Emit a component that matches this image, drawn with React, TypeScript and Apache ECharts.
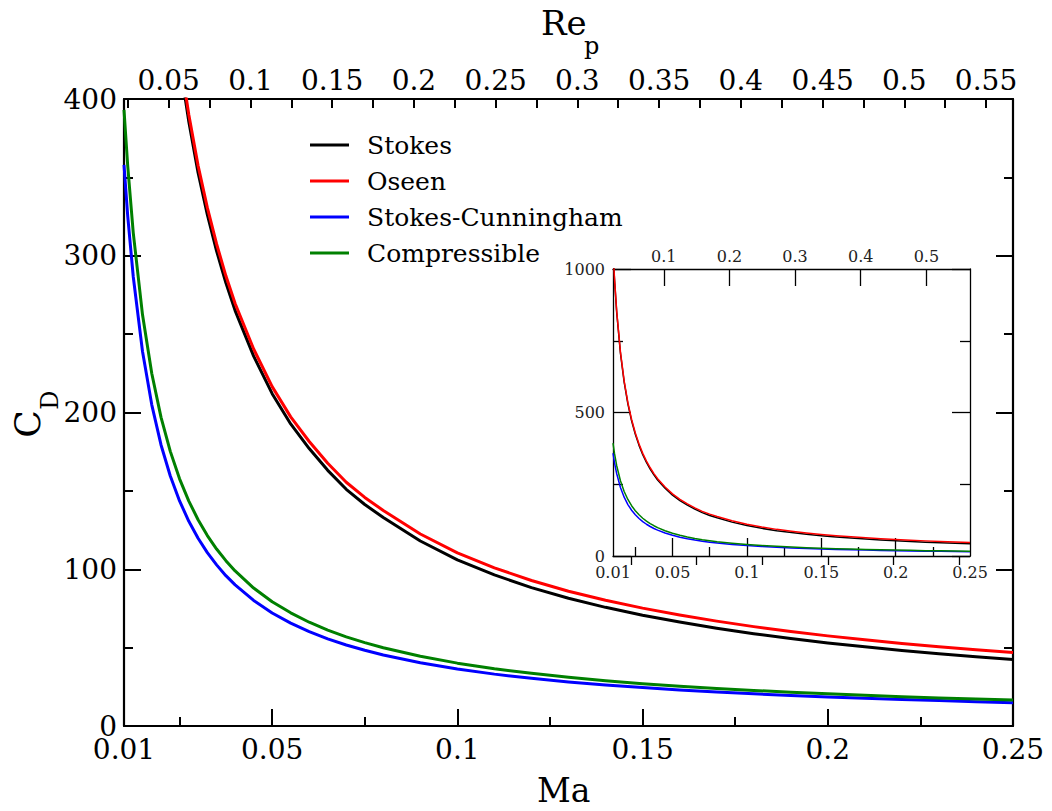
import React, { useEffect, useRef } from "react";
import * as echarts from "echarts";

const FONT = "DejaVu Serif";

// Relative Mach number (bottom axis)
const MA = [0.01, 0.011, 0.0125, 0.015, 0.0175, 0.02, 0.0225, 0.025, 0.0275, 0.03, 0.0325, 0.035, 0.0375, 0.04, 0.045, 0.05, 0.055, 0.06, 0.065, 0.07, 0.075, 0.08, 0.09, 0.1, 0.11, 0.12, 0.13, 0.14, 0.15, 0.16, 0.17, 0.18, 0.19, 0.2, 0.21, 0.22, 0.23, 0.24, 0.25];

// Drag coefficient C_D
const STOKES = [1060, 963.6, 848, 707, 606, 530, 471, 424, 385.5, 353, 326.2, 303, 282.7, 265, 236, 212, 192.7, 177, 163.1, 151, 141.3, 133, 118, 106, 96.4, 88.3, 81.5, 75.7, 70.7, 66.3, 62.4, 58.9, 55.8, 53.0, 50.5, 48.2, 46.1, 44.2, 42.4];
const OSEEN = [1064.5, 968.1, 852.5, 711.5, 610.5, 534.5, 475.5, 428.5, 390.0, 357.5, 330.7, 307.5, 287.2, 269.5, 240.5, 216.5, 197.2, 181.5, 167.6, 155.5, 145.8, 137.5, 122.5, 110.5, 100.9, 92.8, 86.0, 80.2, 75.2, 70.8, 66.9, 63.4, 60.3, 57.5, 55.0, 52.7, 50.6, 48.7, 46.9];
const CUNNINGHAM = [358.0, 325.5, 286.6, 238.9, 204.9, 179.3, 159.5, 143.6, 130.6, 119.8, 110.6, 102.8, 95.9, 90.0, 80.1, 72.1, 65.6, 60.2, 55.6, 51.7, 48.3, 45.3, 40.3, 36.4, 33.1, 30.4, 28.1, 26.2, 24.5, 23.0, 21.7, 20.5, 19.4, 18.5, 17.7, 16.9, 16.2, 15.5, 14.9];
const COMPRESSIBLE = [393.0, 357.4, 314.6, 262.3, 224.9, 196.9, 175.2, 157.7, 143.5, 131.6, 121.5, 112.9, 105.5, 98.9, 88.0, 79.3, 72.2, 66.2, 61.2, 56.9, 53.2, 49.9, 44.5, 40.1, 36.5, 33.6, 31.1, 28.9, 27.0, 25.4, 24.0, 22.7, 21.5, 20.5, 19.6, 18.7, 17.9, 17.2, 16.6];

const SERIES_NAMES = ["Stokes", "Oseen", "Stokes-Cunningham", "Compressible"];
const SERIES_VALUES = [STOKES, OSEEN, CUNNINGHAM, COMPRESSIBLE];
const SERIES_COLORS = ["#000000", "#ff0000", "#0000ff", "#008000"];

// Axis ranges and tick labels
const MA_MIN = 0.01;
const MA_MAX = 0.25;
const RE_MIN = 0.02264;
const RE_MAX = 0.5665;
const MA_LABELS = [0.01, 0.05, 0.1, 0.15, 0.2, 0.25];
const MA_MAJOR = [0.05, 0.1, 0.15, 0.2];
const MA_MINOR = [0.025, 0.075, 0.125, 0.175, 0.225];
const RE_LABELS_MAIN = [0.05, 0.1, 0.15, 0.2, 0.25, 0.3, 0.35, 0.4, 0.45, 0.5, 0.55];
const RE_TICKS_MAIN = [0.025, 0.05, 0.075, 0.1, 0.125, 0.15, 0.175, 0.2, 0.225, 0.25, 0.275, 0.3, 0.325, 0.35, 0.375, 0.4, 0.425, 0.45, 0.475, 0.5, 0.525, 0.55];
const RE_LABELS_INSET = [0.1, 0.2, 0.3, 0.4, 0.5];
const RE_MINOR_INSET = [0.05, 0.15, 0.25, 0.35, 0.45, 0.55];
const CD_MAX_MAIN = 400;
const CD_STEP_MAIN = 100;
const CD_MAX_INSET = 1000;
const CD_STEP_INSET = 500;

function pairs(values: number[]) {
  return MA.map((m, i) => [m, values[i]]);
}

const plain = (v: number) => String(v);

export default function App() {
  const ref = useRef<HTMLDivElement>(null);

  useEffect(() => {
    if (!ref.current) return;
    const chart = echarts.init(ref.current, null, { renderer: "svg" });

    const mainLine = { show: true, onZero: false, lineStyle: { color: "#000", width: 2.2 } };
    const insetLine = { show: true, onZero: false, lineStyle: { color: "#000", width: 1.3 } };
    const mainLabel = { fontFamily: FONT, fontSize: 28, color: "#000", formatter: plain };
    const insetLabel = { fontFamily: FONT, fontSize: 16, color: "#222", formatter: plain };
    const noSplit = { show: false };

    const xAxis: any[] = [
      {
        gridIndex: 0, type: "value", position: "bottom", min: MA_MIN, max: MA_MAX,
        axisLine: mainLine,
        axisTick: { show: true, inside: true, length: 17, lineStyle: { color: "#000", width: 2 }, customValues: MA_MAJOR },
        axisLabel: { ...mainLabel, margin: 9, customValues: MA_LABELS },
        splitLine: noSplit,
      },
      {
        gridIndex: 0, type: "value", position: "bottom", min: MA_MIN, max: MA_MAX,
        axisLine: { show: false },
        axisTick: { show: true, inside: true, length: 9, lineStyle: { color: "#000", width: 2 }, customValues: MA_MINOR },
        axisLabel: { show: false },
        splitLine: noSplit,
      },
      {
        gridIndex: 0, type: "value", position: "top", min: RE_MIN, max: RE_MAX,
        axisLine: mainLine,
        axisTick: { show: true, inside: true, length: 9, lineStyle: { color: "#000", width: 2 }, customValues: RE_TICKS_MAIN },
        axisLabel: { ...mainLabel, margin: 5, customValues: RE_LABELS_MAIN },
        splitLine: noSplit,
      },
      {
        gridIndex: 1, type: "value", position: "bottom", min: MA_MIN, max: MA_MAX,
        axisLine: insetLine,
        axisTick: { show: true, inside: true, length: 18, lineStyle: { color: "#000", width: 1.3 }, customValues: MA_MAJOR },
        axisLabel: { ...insetLabel, margin: 8, customValues: MA_LABELS },
        splitLine: noSplit,
      },
      {
        gridIndex: 1, type: "value", position: "bottom", min: MA_MIN, max: MA_MAX,
        axisLine: { show: false },
        axisTick: { show: true, inside: true, length: 9, lineStyle: { color: "#000", width: 1.3 }, customValues: MA_MINOR },
        axisLabel: { show: false },
        splitLine: noSplit,
      },
      {
        gridIndex: 1, type: "value", position: "top", min: RE_MIN, max: RE_MAX,
        axisLine: insetLine,
        axisTick: { show: true, inside: true, length: 17, lineStyle: { color: "#000", width: 1.3 }, customValues: RE_LABELS_INSET },
        axisLabel: { ...insetLabel, margin: 5, customValues: RE_LABELS_INSET },
        splitLine: noSplit,
      },
      {
        gridIndex: 1, type: "value", position: "top", min: RE_MIN, max: RE_MAX,
        axisLine: { show: false },
        axisTick: { show: true, inside: true, length: 9, lineStyle: { color: "#000", width: 1.3 }, customValues: RE_MINOR_INSET },
        axisLabel: { show: false },
        splitLine: noSplit,
      },
    ];

    const yAxis: any[] = [
      {
        gridIndex: 0, type: "value", position: "left", min: 0, max: CD_MAX_MAIN, interval: CD_STEP_MAIN,
        axisLine: mainLine,
        axisTick: { show: true, inside: true, length: 17, lineStyle: { color: "#000", width: 2 } },
        minorTick: { show: true, splitNumber: 2, length: 9, lineStyle: { color: "#000", width: 2 } },
        axisLabel: { ...mainLabel, margin: 7 },
        splitLine: noSplit,
      },
      {
        gridIndex: 0, type: "value", position: "right", min: 0, max: CD_MAX_MAIN, interval: CD_STEP_MAIN,
        axisLine: mainLine,
        axisTick: { show: true, inside: true, length: 17, lineStyle: { color: "#000", width: 2 } },
        minorTick: { show: true, splitNumber: 2, length: 9, lineStyle: { color: "#000", width: 2 } },
        axisLabel: { show: false },
        splitLine: noSplit,
      },
      {
        gridIndex: 1, type: "value", position: "left", min: 0, max: CD_MAX_INSET, interval: CD_STEP_INSET,
        axisLine: insetLine,
        axisTick: { show: true, inside: true, length: 18, lineStyle: { color: "#000", width: 1.3 } },
        minorTick: { show: true, splitNumber: 2, length: 10, lineStyle: { color: "#000", width: 1.3 } },
        axisLabel: { ...insetLabel, margin: 8 },
        splitLine: noSplit,
      },
      {
        gridIndex: 1, type: "value", position: "right", min: 0, max: CD_MAX_INSET, interval: CD_STEP_INSET,
        axisLine: insetLine,
        axisTick: { show: true, inside: true, length: 18, lineStyle: { color: "#000", width: 1.3 } },
        minorTick: { show: true, splitNumber: 2, length: 10, lineStyle: { color: "#000", width: 1.3 } },
        axisLabel: { show: false },
        splitLine: noSplit,
      },
    ];

    const mainSeries = SERIES_NAMES.map((name, i) => ({
      name, type: "line", xAxisIndex: 0, yAxisIndex: 0,
      data: pairs(SERIES_VALUES[i]),
      showSymbol: false, symbol: "none", smooth: false,
      lineStyle: { color: SERIES_COLORS[i], width: 3, join: "round" },
      itemStyle: { color: SERIES_COLORS[i] },
      clip: true, z: 3 + i,
    }));
    const insetSeries = SERIES_NAMES.map((name, i) => ({
      name, type: "line", xAxisIndex: 3, yAxisIndex: 2,
      data: pairs(SERIES_VALUES[i]),
      showSymbol: false, symbol: "none", smooth: false,
      lineStyle: { color: SERIES_COLORS[i], width: 1.5, join: "round" },
      itemStyle: { color: SERIES_COLORS[i] },
      clip: true, z: 3 + i,
    }));

    const txt = (text: string, x: number, y: number, size: number, rotation = 0, align = "left") => ({
      type: "text", x, y, rotation, silent: true,
      style: {
        text, fill: "#000", fontFamily: FONT, fontSize: size,
        font: `${size}px ${FONT}`,
        textAlign: align, align, textVerticalAlign: "middle", verticalAlign: "middle",
      },
    });

    chart.setOption({
      animation: false,
      backgroundColor: "#ffffff",
      textStyle: { fontFamily: FONT },
      grid: [
        { left: 124, top: 99, width: 889, height: 627, containLabel: false, outerBoundsMode: "none" },
        { left: 613, top: 269, width: 357, height: 287, containLabel: false, outerBoundsMode: "none" },
      ],
      xAxis, yAxis,
      legend: {
        data: SERIES_NAMES,
        orient: "vertical", left: 310, top: 130, padding: 0,
        itemWidth: 39, itemHeight: 3, itemGap: 6, icon: "rect",
        textStyle: { fontFamily: FONT, fontSize: 25, color: "#000", lineHeight: 30, padding: [0, 0, 0, 13] },
        selectedMode: false,
      },
      series: [...mainSeries, ...insetSeries],
      graphic: [
        txt("Re", 541, 23, 34),
        txt("p", 584, 46, 24),
        txt("Ma", 537, 790, 33),
        txt("r", 591, 816, 24),
        txt("C", 27, 424, 36, Math.PI / 2, "center"),
        txt("D", 50, 400, 24, Math.PI / 2, "center"),
      ],
    });

    return () => chart.dispose();
  }, []);

  return (
    <div
      ref={ref}
      style={{ position: "fixed", left: 0, top: 0, width: 1052, height: 811, background: "#fff" }}
    />
  );
}
